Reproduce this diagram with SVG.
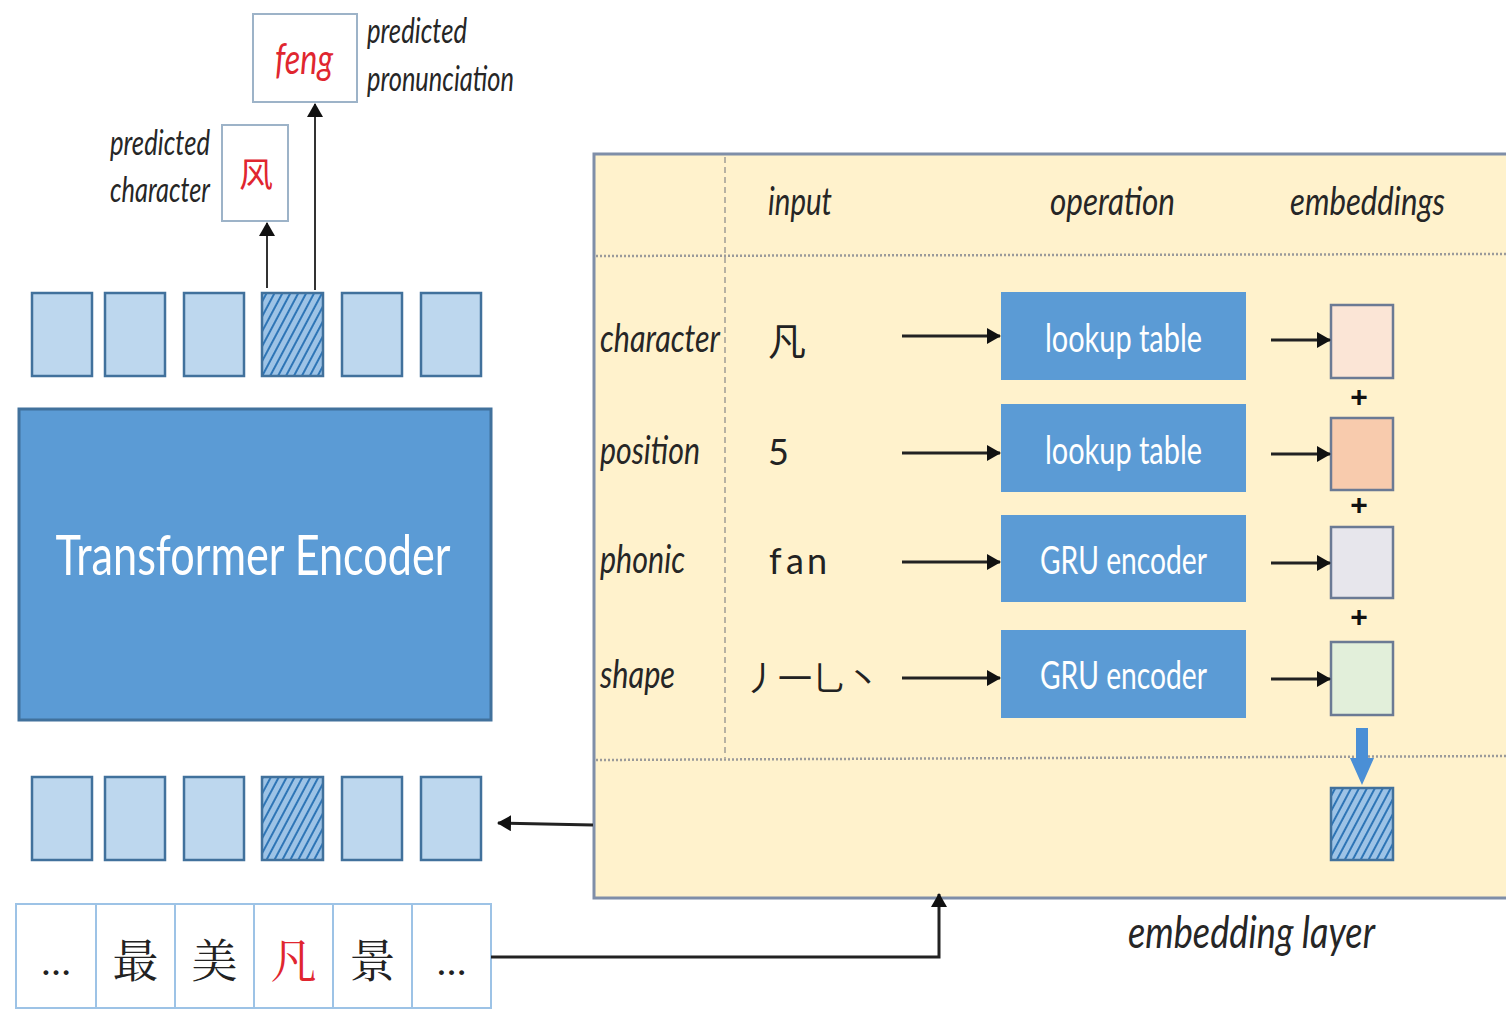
<svg xmlns="http://www.w3.org/2000/svg" width="1506" height="1009" viewBox="0 0 1506 1009">
  <style>
    .lbl { font-family: Lato, "Open Sans", "Liberation Sans", sans-serif; font-style: italic; fill: #262626; }
    .op { font-family: Lato, "Open Sans", "Liberation Sans", sans-serif; fill: #ffffff; font-size: 38px; }
    .cjk { font-family: "Noto Sans CJK SC", "Noto Sans CJK JP", sans-serif; fill: #222; }
    .serifcjk { font-family: "Noto Serif CJK SC", "Noto Sans CJK SC", serif; fill: #222; }
    .tok { fill: #bdd7ee; stroke: #41719c; stroke-width: 2.5; }
    .hat { fill: url(#hatch); stroke: #41719c; stroke-width: 2.5; }
    .opbox { fill: #5b9bd5; }
    .cell { fill: #ffffff; stroke: #9dc3e6; stroke-width: 2; }
    .conn { stroke: #222; stroke-width: 3; fill: none; }
    .thin { stroke: #333; stroke-width: 2; fill: none; }
    .plus { font-family: "Liberation Sans", sans-serif; font-size: 30px; font-weight: bold; fill: #111; }
    .val { font-family: Lato, "Liberation Sans", sans-serif; font-size: 36px; fill: #222; }
  </style>
  <defs>
    <pattern id="hatch" width="7" height="7" patternUnits="userSpaceOnUse" patternTransform="rotate(28)">
      <rect width="7" height="7" fill="#9dc3e6"/>
      <line x1="2" y1="0" x2="2" y2="7" stroke="#2e75b6" stroke-width="2"/>
    </pattern>
    <marker id="ahs" markerWidth="14" markerHeight="16" refX="13" refY="8" orient="auto" markerUnits="userSpaceOnUse" viewBox="0 0 14 16">
      <path d="M0,0 L14,8 L0,16 z" fill="#111"/>
    </marker>
  </defs>

  <rect width="1506" height="1009" fill="#ffffff"/>

  <!-- embedding layer panel -->
  <g id="embedding-layer">
    <rect x="594" y="154" width="920" height="744" fill="#fff2cc" stroke="#7f8ea8" stroke-width="3"/>
    <line x1="725" y1="157" x2="725" y2="758" stroke="#888" stroke-width="1.2" stroke-dasharray="6,4"/>
    <line x1="596" y1="256" x2="1506" y2="254" stroke="#9a9a9a" stroke-width="2.5" stroke-dasharray="2,2"/>
    <line x1="596" y1="760" x2="1506" y2="756" stroke="#9a9a9a" stroke-width="2.5" stroke-dasharray="2,2"/>
    <text class="lbl" x="768" y="215" font-size="38" textLength="64" lengthAdjust="spacingAndGlyphs">input</text>
    <text class="lbl" x="1050" y="215" font-size="38" textLength="125" lengthAdjust="spacingAndGlyphs">operation</text>
    <text class="lbl" x="1290" y="215" font-size="38" textLength="155" lengthAdjust="spacingAndGlyphs">embeddings</text>
    <text class="lbl" x="1128" y="948" font-size="44" textLength="247" lengthAdjust="spacingAndGlyphs">embedding layer</text>
  </g>

  <!-- row: character -->
  <g id="row-character">
    <text class="lbl" x="600" y="352" font-size="38" textLength="120" lengthAdjust="spacingAndGlyphs">character</text>
    <text class="cjk" x="768" y="355" font-size="38">凡</text>
    <rect class="opbox" x="1001" y="292" width="245" height="88"/>
    <text class="op" x="1123.5" y="352" text-anchor="middle" textLength="157" lengthAdjust="spacingAndGlyphs">lookup table</text>
    <rect x="1331" y="305" width="62" height="73" fill="#fbe5d6" stroke="#6b7a94" stroke-width="2.5"/>
  </g>

  <!-- row: position -->
  <g id="row-position">
    <text class="lbl" x="600" y="464" font-size="38" textLength="100" lengthAdjust="spacingAndGlyphs">position</text>
    <text class="val" x="768" y="465">5</text>
    <rect class="opbox" x="1001" y="404" width="245" height="88"/>
    <text class="op" x="1123.5" y="464" text-anchor="middle" textLength="157" lengthAdjust="spacingAndGlyphs">lookup table</text>
    <rect x="1331" y="418" width="62" height="72" fill="#f8cbad" stroke="#6b7a94" stroke-width="2.5"/>
  </g>

  <!-- row: phonic -->
  <g id="row-phonic">
    <text class="lbl" x="600" y="573" font-size="38" textLength="85" lengthAdjust="spacingAndGlyphs">phonic</text>
    <text class="val" y="574"><tspan x="769">f</tspan><tspan x="786">a</tspan><tspan x="807">n</tspan></text>
    <rect class="opbox" x="1001" y="515" width="245" height="87"/>
    <text class="op" x="1123.5" y="574" text-anchor="middle" textLength="167" lengthAdjust="spacingAndGlyphs">GRU encoder</text>
    <rect x="1331" y="527" width="62" height="71" fill="#e7e6ec" stroke="#6b7a94" stroke-width="2.5"/>
  </g>

  <!-- row: shape -->
  <g id="row-shape">
    <text class="lbl" x="600" y="688" font-size="38" textLength="75" lengthAdjust="spacingAndGlyphs">shape</text>
    <text class="cjk" y="691" font-size="34"><tspan x="744">丿</tspan><tspan x="778">一</tspan><tspan x="812">乚</tspan><tspan x="846">丶</tspan></text>
    <rect class="opbox" x="1001" y="630" width="245" height="88"/>
    <text class="op" x="1123.5" y="689" text-anchor="middle" textLength="167" lengthAdjust="spacingAndGlyphs">GRU encoder</text>
    <rect x="1331" y="642" width="62" height="73" fill="#e2efda" stroke="#6b7a94" stroke-width="2.5"/>
  </g>

  <!-- summed embedding -->
  <g id="sum-embedding">
    <text class="plus" x="1359" y="407" text-anchor="middle">+</text>
    <text class="plus" x="1359" y="515" text-anchor="middle">+</text>
    <text class="plus" x="1359" y="627" text-anchor="middle">+</text>
    <path d="M1356,728 L1368,728 L1368,758 L1374,758 L1362,785 L1350,758 L1356,758 z" fill="#4a8fd6"/>
    <rect class="hat" x="1331" y="788" width="62" height="72"/>
  </g>

  <!-- transformer encoder -->
  <g id="transformer-encoder">
    <rect x="19" y="409" width="472" height="311" fill="#5b9bd5" stroke="#41719c" stroke-width="3"/>
    <text x="253" y="575" font-size="56" text-anchor="middle" fill="#ffffff" font-family="Lato, 'Open Sans', 'Liberation Sans', sans-serif" textLength="395" lengthAdjust="spacingAndGlyphs">Transformer Encoder</text>
  </g>

  <!-- output token vectors -->
  <g id="output-tokens">
    <rect class="tok" x="32" y="293" width="60" height="83"/>
    <rect class="tok" x="105" y="293" width="60" height="83"/>
    <rect class="tok" x="184" y="293" width="60" height="83"/>
    <rect class="hat" x="262" y="293" width="61" height="83"/>
    <rect class="tok" x="342" y="293" width="60" height="83"/>
    <rect class="tok" x="421" y="293" width="60" height="83"/>
  </g>

  <!-- input embedding vectors -->
  <g id="input-embeddings">
    <rect class="tok" x="32" y="777" width="60" height="83"/>
    <rect class="tok" x="105" y="777" width="60" height="83"/>
    <rect class="tok" x="184" y="777" width="60" height="83"/>
    <rect class="hat" x="262" y="777" width="61" height="83"/>
    <rect class="tok" x="342" y="777" width="60" height="83"/>
    <rect class="tok" x="421" y="777" width="60" height="83"/>
  </g>

  <!-- input sentence -->
  <g id="input-sentence">
    <rect class="cell" x="16" y="904" width="80" height="104"/>
    <rect class="cell" x="96" y="904" width="79" height="104"/>
    <rect class="cell" x="175" y="904" width="79" height="104"/>
    <rect class="cell" x="254" y="904" width="79" height="104"/>
    <rect class="cell" x="333" y="904" width="79" height="104"/>
    <rect class="cell" x="412" y="904" width="79" height="104"/>
    <text x="56" y="975" font-size="30" font-weight="bold" text-anchor="middle" font-family="'Liberation Serif', serif" fill="#222">…</text>
    <text class="serifcjk" x="135.5" y="977" font-size="46" text-anchor="middle">最</text>
    <text class="serifcjk" x="214.5" y="977" font-size="46" text-anchor="middle">美</text>
    <text class="serifcjk" x="293.5" y="977" font-size="46" text-anchor="middle" style="fill:#e0262f">凡</text>
    <text class="serifcjk" x="372.5" y="977" font-size="46" text-anchor="middle">景</text>
    <text x="451.5" y="975" font-size="30" font-weight="bold" text-anchor="middle" font-family="'Liberation Serif', serif" fill="#222">…</text>
  </g>

  <!-- predicted character -->
  <g id="predicted-character">
    <rect x="222" y="125" width="66" height="96" fill="#ffffff" stroke="#9db3c8" stroke-width="2"/>
    <text class="cjk" x="256" y="187" font-size="34" text-anchor="middle" style="fill:#e0262f">风</text>
    <text class="lbl" x="210" y="155" font-size="34" text-anchor="end" textLength="100" lengthAdjust="spacingAndGlyphs">predicted</text>
    <text class="lbl" x="210" y="202" font-size="34" text-anchor="end" textLength="100" lengthAdjust="spacingAndGlyphs">character</text>
  </g>

  <!-- predicted pronunciation -->
  <g id="predicted-pronunciation">
    <rect x="253" y="14" width="104" height="88" fill="#ffffff" stroke="#9db3c8" stroke-width="2"/>
    <text x="304" y="74" font-size="42" font-style="italic" text-anchor="middle" fill="#e0262f" font-family="Lato, 'Open Sans', 'Liberation Sans', sans-serif" textLength="58" lengthAdjust="spacingAndGlyphs">feng</text>
    <text class="lbl" x="367" y="43" font-size="34" textLength="100" lengthAdjust="spacingAndGlyphs">predicted</text>
    <text class="lbl" x="367" y="91" font-size="34" textLength="147" lengthAdjust="spacingAndGlyphs">pronunciation</text>
  </g>

  <!-- connectors -->
  <g id="connectors">
    <line class="thin" x1="267" y1="288" x2="267" y2="223" marker-end="url(#ahs)"/>
    <line class="thin" x1="315" y1="290" x2="315" y2="104" marker-end="url(#ahs)"/>
    <line class="conn" x1="902" y1="336" x2="1000" y2="336" marker-end="url(#ahs)"/>
    <line class="conn" x1="902" y1="453" x2="1000" y2="453" marker-end="url(#ahs)"/>
    <line class="conn" x1="902" y1="562" x2="1000" y2="562" marker-end="url(#ahs)"/>
    <line class="conn" x1="902" y1="678" x2="1000" y2="678" marker-end="url(#ahs)"/>
    <line class="conn" x1="1271" y1="340" x2="1330" y2="340" marker-end="url(#ahs)"/>
    <line class="conn" x1="1271" y1="454" x2="1330" y2="454" marker-end="url(#ahs)"/>
    <line class="conn" x1="1271" y1="563" x2="1330" y2="563" marker-end="url(#ahs)"/>
    <line class="conn" x1="1271" y1="679" x2="1330" y2="679" marker-end="url(#ahs)"/>
    <line class="conn" x1="593" y1="825" x2="498" y2="823" marker-end="url(#ahs)"/>
    <polyline class="conn" points="491,957 939,957 939,894" marker-end="url(#ahs)"/>
  </g>
</svg>
